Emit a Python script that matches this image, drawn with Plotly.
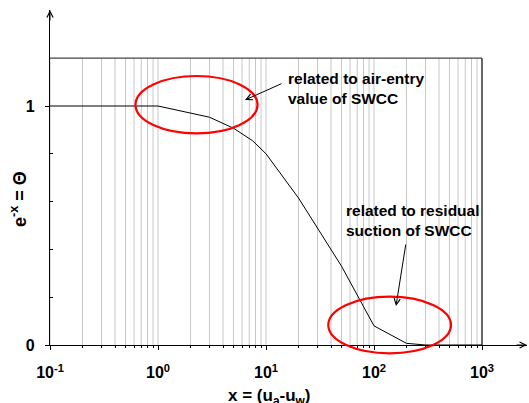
import plotly.graph_objects as go

# ---- data ----
curve_x = [0.1, 1, 3, 5, 7.5, 10, 20, 50, 100, 200, 300, 1000]
curve_y = [1.0, 1.0, 0.953, 0.907, 0.855, 0.8, 0.615, 0.33, 0.08, 0.007, 0.0, 0.0]
decades = [0.1, 1, 10, 100, 1000]
decade_labels = ["10<sup>-1</sup>", "10<sup>0</sup>", "10<sup>1</sup>", "10<sup>2</sup>", "10<sup>3</sup>"]
minor_mult = [2, 3, 4, 5, 6, 7, 8, 9]
y_major = [0, 1]
y_major_labels = ["0", "1"]
y_minor = [0.2, 0.4, 0.6, 0.8]
frame_top = 1.2

W, H = 529, 403
L, R, T, B = 50, 2, 10, 58
PX_X0, PX_X1 = L, W - R
PX_Y0, PX_Y1 = T, H - B
DEC = 108.0
UNIT = 239.0
x_range = [-1, -1 + (PX_X1 - PX_X0) / DEC]
y_range = [0, (PX_Y1 - PX_Y0) / UNIT]


def px(xp):
    return (xp - PX_X0) / (PX_X1 - PX_X0)


def py(yp):
    return (PX_Y1 - yp) / (PX_Y1 - PX_Y0)


minor_x = [m * d for d in decades[:-1] for m in minor_mult]
grid_x = sorted(set(minor_x + decades[:-1]))

fig = go.Figure()

# vertical grid lines
gx, gy = [], []
for v in grid_x:
    gx += [v, v, None]
    gy += [0, frame_top, None]
fig.add_trace(go.Scatter(x=gx, y=gy, mode="lines",
                         line=dict(color="#c8c8c8", width=1),
                         hoverinfo="skip", showlegend=False))
# frame top
fig.add_trace(go.Scatter(x=[decades[0], decades[-1]], y=[frame_top, frame_top], mode="lines",
                         line=dict(color="#444444", width=1.2), hoverinfo="skip", showlegend=False))
# frame right
fig.add_trace(go.Scatter(x=[decades[-1], decades[-1]], y=[0, frame_top], mode="lines",
                         line=dict(color="#000000", width=1.2), hoverinfo="skip", showlegend=False))
# curve
fig.add_trace(go.Scatter(x=curve_x, y=curve_y, mode="lines",
                         line=dict(color="black", width=1), showlegend=False))

font_family = "Liberation Sans, Arial, Helvetica, sans-serif"

fig.update_layout(
    width=W, height=H,
    margin=dict(l=L, r=R, t=T, b=B),
    paper_bgcolor="white", plot_bgcolor="white",
    font=dict(family=font_family, color="black"),
    showlegend=False,
)
fig.update_xaxes(
    type="log", range=x_range, showgrid=False, zeroline=False,
    showline=True, linecolor="black", linewidth=1.2,
    tickmode="array", tickvals=decades,
    ticktext=["<b>" + t + "</b>" for t in decade_labels],
    ticks="outside", ticklen=4, tickcolor="black", tickwidth=1,
    tickfont=dict(size=16, family=font_family),
    ticklabelstandoff=9,
    minor=dict(tickmode="array", tickvals=minor_x, ticks="outside", ticklen=2,
               tickcolor="black", showgrid=False),
)
fig.update_yaxes(
    range=y_range, showgrid=False, zeroline=False,
    showline=True, linecolor="black", linewidth=1.2,
    tickmode="array", tickvals=y_major,
    ticktext=["<b>" + t + "</b>" for t in y_major_labels],
    ticks="outside", ticklen=4, tickcolor="black", tickwidth=1,
    tickfont=dict(size=16, family=font_family),
    ticklabelstandoff=7,
    minor=dict(tickmode="array", tickvals=y_minor, ticks="inside", ticklen=3,
               tickcolor="black", showgrid=False),
)

# ellipses
fig.add_shape(type="circle", xref="paper", yref="paper",
              x0=px(135.5), x1=px(257.5), y0=py(133.4), y1=py(76),
              line=dict(color="#ff0000", width=2.2))
fig.add_shape(type="circle", xref="paper", yref="paper",
              x0=px(328.3), x1=px(451), y0=py(353.3), y1=py(296.7),
              line=dict(color="#ff0000", width=2.2))

# text annotations
fig.add_annotation(xref="paper", yref="paper", x=px(286), y=py(68),
                   xanchor="left", yanchor="top", align="left", showarrow=False,
                   text="<b>related to air-entry<br>value of SWCC</b>",
                   font=dict(size=15.5, family=font_family))
fig.add_annotation(xref="paper", yref="paper", x=px(344), y=py(200),
                   xanchor="left", yanchor="top", align="left", showarrow=False,
                   text="<b>related to residual<br>suction of SWCC</b>",
                   font=dict(size=15.5, family=font_family))

# pointer arrows
fig.add_annotation(xref="paper", yref="paper", x=px(245), y=py(100),
                   ax=38, ay=-17, text="", showarrow=True,
                   arrowhead=5, arrowsize=1.2, arrowwidth=1, arrowcolor="black")
fig.add_annotation(xref="paper", yref="paper", x=px(396), y=py(306),
                   ax=10, ay=-63, text="", showarrow=True,
                   arrowhead=5, arrowsize=1.2, arrowwidth=1, arrowcolor="black")

# axis-end arrows
fig.add_annotation(xref="paper", yref="paper", x=1.0, y=0.0,
                   ax=-12, ay=0, text="", showarrow=True,
                   arrowhead=5, arrowsize=1.2, arrowwidth=1, arrowcolor="black")
fig.add_annotation(xref="paper", yref="paper", x=0.0, y=1.0,
                   ax=0, ay=12, text="", showarrow=True,
                   arrowhead=5, arrowsize=1.2, arrowwidth=1, arrowcolor="black")

# axis titles
fig.add_annotation(xref="paper", yref="paper", x=px(269), y=py(410),
                   xanchor="center", yanchor="bottom", showarrow=False,
                   text="<b>x = (u<sub>a</sub>-u<sub>w</sub>)</b>",
                   font=dict(size=17, family=font_family))
fig.add_annotation(xref="paper", yref="paper", x=px(19), y=py(199),
                   xanchor="center", yanchor="middle", showarrow=False, textangle=-90,
                   text="<b>e<sup>-x</sup> = Θ</b>",
                   font=dict(size=18, family=font_family))

fig.write_html("out.html", config={"displayModeBar": False},
               post_script="document.body.style.margin='0px';")
